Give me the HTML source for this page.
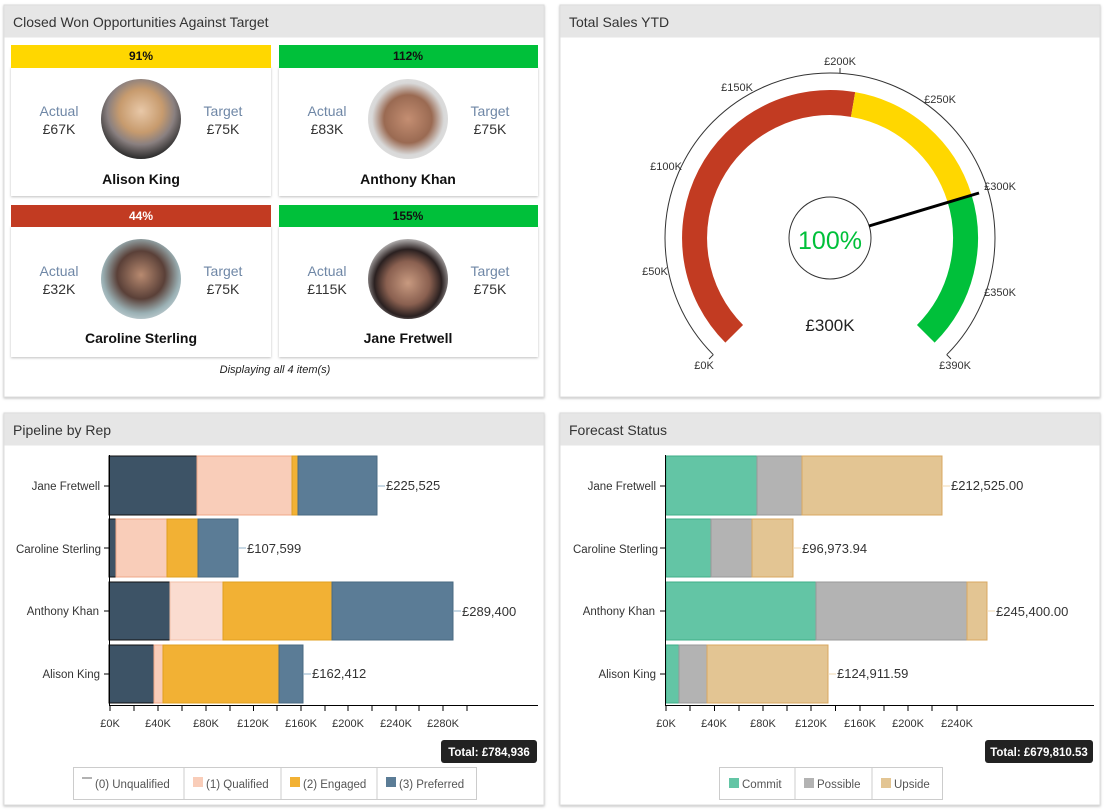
<!DOCTYPE html>
<html><head><meta charset="utf-8"><style>
html,body{margin:0;padding:0;background:#fff;}
svg{display:block;font-family:"Liberation Sans",sans-serif;}
</style></head><body>
<svg width="1110" height="812" viewBox="0 0 1110 812" xmlns="http://www.w3.org/2000/svg">
<defs>
<filter id="sh" x="-5%" y="-5%" width="110%" height="110%"><feDropShadow dx="0" dy="1" stdDeviation="1.2" flood-color="#000" flood-opacity="0.25"/></filter>
<radialGradient id="p1" cx="50%" cy="40%" r="60%"><stop offset="0" stop-color="#e8c8a8"/><stop offset="0.45" stop-color="#c79b6e"/><stop offset="0.7" stop-color="#8a8080"/><stop offset="1" stop-color="#2a2a2a"/></radialGradient>
<radialGradient id="p2" cx="50%" cy="50%" r="60%"><stop offset="0" stop-color="#c48e72"/><stop offset="0.5" stop-color="#9a6a52"/><stop offset="0.75" stop-color="#d8d8d8"/><stop offset="1" stop-color="#e4e4e4"/></radialGradient>
<radialGradient id="p3" cx="50%" cy="45%" r="60%"><stop offset="0" stop-color="#b88a70"/><stop offset="0.5" stop-color="#5a4038"/><stop offset="0.8" stop-color="#9ab0b4"/><stop offset="1" stop-color="#c8d4d8"/></radialGradient>
<radialGradient id="p4" cx="50%" cy="55%" r="60%"><stop offset="0" stop-color="#c89a80"/><stop offset="0.45" stop-color="#8a6050"/><stop offset="0.7" stop-color="#2a2020"/><stop offset="1" stop-color="#e8e8e8"/></radialGradient>
</defs>

<!-- Panels -->
<g filter="url(#sh)">
<rect x="4" y="5" width="540" height="392" fill="#fff" stroke="#ddd"/>
<rect x="560" y="5" width="540" height="392" fill="#fff" stroke="#ddd"/>
<rect x="4" y="413" width="540" height="392" fill="#fff" stroke="#ddd"/>
<rect x="560" y="413" width="540" height="392" fill="#fff" stroke="#ddd"/>
</g>
<rect x="4.5" y="5.5" width="539" height="32" fill="#e6e6e6"/>
<rect x="560.5" y="5.5" width="539" height="32" fill="#e6e6e6"/>
<rect x="4.5" y="413.5" width="539" height="32" fill="#e6e6e6"/>
<rect x="560.5" y="413.5" width="539" height="32" fill="#e6e6e6"/>
<g font-size="14" fill="#333">
<text x="13" y="27">Closed Won Opportunities Against Target</text>
<text x="569" y="27">Total Sales YTD</text>
<text x="13" y="435">Pipeline by Rep</text>
<text x="569" y="435">Forecast Status</text>
</g>

<!-- Cards -->
<g filter="url(#sh)">
<rect x="11" y="67" width="260" height="129" fill="#fff"/>
<rect x="279" y="67" width="259" height="129" fill="#fff"/>
<rect x="11" y="226" width="260" height="131" fill="#fff"/>
<rect x="279" y="226" width="259" height="131" fill="#fff"/>
</g>
<rect x="11" y="45" width="260" height="23" fill="#ffd700"/>
<rect x="279" y="45" width="259" height="23" fill="#00c03a"/>
<rect x="11" y="205" width="260" height="22" fill="#c23b22"/>
<rect x="279" y="205" width="259" height="22" fill="#00c03a"/>
<g font-size="12" font-weight="bold" text-anchor="middle">
<text x="141" y="60" fill="#111">91%</text>
<text x="408" y="60" fill="#111">112%</text>
<text x="141" y="220" fill="#fff">44%</text>
<text x="408" y="220" fill="#111">155%</text>
</g>
<circle cx="141" cy="119" r="40" fill="url(#p1)"/>
<circle cx="408" cy="119" r="40" fill="url(#p2)"/>
<circle cx="141" cy="279" r="40" fill="url(#p3)"/>
<circle cx="408" cy="279" r="40" fill="url(#p4)"/>
<g text-anchor="middle" font-size="14">
<g fill="#6f87a6"><text x="59" y="116">Actual</text><text x="223" y="116">Target</text><text x="327" y="116">Actual</text><text x="490" y="116">Target</text>
<text x="59" y="276">Actual</text><text x="223" y="276">Target</text><text x="327" y="276">Actual</text><text x="490" y="276">Target</text></g>
<g fill="#333"><text x="59" y="134">£67K</text><text x="223" y="134">£75K</text><text x="327" y="134">£83K</text><text x="490" y="134">£75K</text>
<text x="59" y="294">£32K</text><text x="223" y="294">£75K</text><text x="327" y="294">£115K</text><text x="490" y="294">£75K</text></g>
<g fill="#111" font-weight="bold"><text x="141" y="184">Alison King</text><text x="408" y="184">Anthony Khan</text>
<text x="141" y="343">Caroline Sterling</text><text x="408" y="343">Jane Fretwell</text></g>
<text x="275" y="373" font-size="11" font-style="italic" fill="#222">Displaying all 4 item(s)</text>
</g>

<!-- Gauge -->
<g fill="none">
<path d="M713.3 354.7 A165 165 0 1 1 946.7 354.7" stroke="#333" stroke-width="1"/>
<path d="M734.2 333.8 A135.5 135.5 0 0 1 853.1 104.5" stroke="#c23b22" stroke-width="25"/>
<path d="M853.1 104.5 A135.5 135.5 0 0 1 959.4 197.8" stroke="#ffd700" stroke-width="25"/>
<path d="M959.4 197.8 A135.5 135.5 0 0 1 925.8 333.8" stroke="#00c03a" stroke-width="25"/>
<circle cx="830" cy="238" r="41" stroke="#333" stroke-width="1"/>
<line x1="869" y1="226" x2="979" y2="193" stroke="#000" stroke-width="3"/>
</g>
<g stroke="#333" stroke-width="1">
<line x1="713.3" y1="354.7" x2="709" y2="359"/>
<line x1="946.7" y1="354.7" x2="951" y2="359"/>
<line x1="840" y1="73" x2="840" y2="68"/>
</g>
<g font-size="11" fill="#333" text-anchor="middle">
<text x="704" y="369">£0K</text>
<text x="655" y="275">£50K</text>
<text x="666" y="170">£100K</text>
<text x="737" y="91">£150K</text>
<text x="840" y="65">£200K</text>
<text x="940" y="103">£250K</text>
<text x="1000" y="190">£300K</text>
<text x="1000" y="296">£350K</text>
<text x="955" y="369">£390K</text>
</g>
<text x="830" y="249" font-size="25" fill="#00c03a" text-anchor="middle">100%</text>
<text x="830" y="331" font-size="17" fill="#222" text-anchor="middle">£300K</text>

<!-- Pipeline by Rep -->
<g stroke-width="1">
<rect x="109" y="456" width="88" height="59" fill="#3d5366" stroke="#111"/>
<rect x="197" y="456" width="95" height="59" fill="#f9cdb9" stroke="#f0a888"/>
<rect x="292" y="456" width="6" height="59" fill="#f2b134" stroke="#e0a020"/>
<rect x="298" y="456" width="79" height="59" fill="#5b7c96" stroke="#4a6a82"/>
<rect x="109" y="519" width="7" height="58" fill="#3d5366" stroke="#111"/>
<rect x="116" y="519" width="51" height="58" fill="#f9cdb9" stroke="#f0a888"/>
<rect x="167" y="519" width="31" height="58" fill="#f2b134" stroke="#e0a020"/>
<rect x="198" y="519" width="40" height="58" fill="#5b7c96" stroke="#4a6a82"/>
<rect x="109" y="582" width="61" height="58" fill="#3d5366" stroke="#111"/>
<rect x="170" y="582" width="53" height="58" fill="#fadcd0" stroke="#f3c0a8"/>
<rect x="223" y="582" width="109" height="58" fill="#f2b134" stroke="#e0a020"/>
<rect x="332" y="582" width="121" height="58" fill="#5b7c96" stroke="#4a6a82"/>
<rect x="109" y="645" width="45" height="58" fill="#3d5366" stroke="#111"/>
<rect x="154" y="645" width="9" height="58" fill="#f9cdb9" stroke="#f0a888"/>
<rect x="163" y="645" width="116" height="58" fill="#f2b134" stroke="#e0a020"/>
<rect x="279" y="645" width="24" height="58" fill="#5b7c96" stroke="#4a6a82"/>
</g>
<g stroke="#8fb0c8"><line x1="377" y1="486" x2="385" y2="486"/><line x1="238" y1="548" x2="246" y2="548"/><line x1="453" y1="611" x2="461" y2="611"/><line x1="303" y1="674" x2="311" y2="674"/></g>
<g font-size="13" fill="#333">
<text x="386" y="490">£225,525</text><text x="247" y="553">£107,599</text><text x="462" y="616">£289,400</text><text x="312" y="678">£162,412</text>
</g>
<g font-size="11.5" fill="#333" text-anchor="end">
<text x="100" y="490">Jane Fretwell</text><text x="101" y="553">Caroline Sterling</text><text x="99" y="615">Anthony Khan</text><text x="100" y="678">Alison King</text>
</g>
<g stroke="#000"><line x1="109.5" y1="455" x2="109.5" y2="706"/><line x1="109" y1="705.5" x2="538" y2="705.5"/>
<line x1="104" y1="486" x2="109" y2="486"/><line x1="104" y1="548" x2="109" y2="548"/><line x1="104" y1="611" x2="109" y2="611"/><line x1="104" y1="674" x2="109" y2="674"/>
<path d="M110 706v5M134 706v5M158 706v5M182 706v5M206 706v5M230 706v5M253.5 706v5M277 706v5M301 706v5M325 706v5M348 706v5M372 706v5M396 706v5M419 706v5M443 706v5M467 706v5"/></g>
<g font-size="11" fill="#333" text-anchor="middle">
<text x="110" y="727">£0K</text><text x="158" y="727">£40K</text><text x="206" y="727">£80K</text><text x="253" y="727">£120K</text><text x="301" y="727">£160K</text><text x="348" y="727">£200K</text><text x="396" y="727">£240K</text><text x="443" y="727">£280K</text>
</g>
<rect x="441" y="740" width="96" height="23" rx="3" fill="#222"/>
<text x="489" y="756" font-size="11.5" font-weight="bold" fill="#fff" text-anchor="middle">Total: £784,936</text>
<rect x="73.5" y="767.5" width="403" height="32" fill="#fff" stroke="#ccc"/>
<g stroke="#ccc"><line x1="184" y1="768" x2="184" y2="799"/><line x1="281" y1="768" x2="281" y2="799"/><line x1="377" y1="768" x2="377" y2="799"/></g>
<line x1="82" y1="778" x2="92" y2="778" stroke="#666"/>
<rect x="193" y="777" width="10" height="10" fill="#f9cdb9"/>
<rect x="290" y="777" width="10" height="10" fill="#f2b134"/>
<rect x="386" y="777" width="10" height="10" fill="#5b7c96"/>
<g font-size="11.5" fill="#555"><text x="95" y="788">(0) Unqualified</text><text x="206" y="788">(1) Qualified</text><text x="303" y="788">(2) Engaged</text><text x="399" y="788">(3) Preferred</text></g>

<!-- Forecast Status -->
<g stroke-width="1">
<rect x="666" y="456" width="91" height="59" fill="#63c5a5" stroke="#3fae88"/>
<rect x="757" y="456" width="45" height="59" fill="#b3b3b3" stroke="#999"/>
<rect x="802" y="456" width="140" height="59" fill="#e3c593" stroke="#d8a860"/>
<rect x="666" y="519" width="45" height="58" fill="#63c5a5" stroke="#3fae88"/>
<rect x="711" y="519" width="41" height="58" fill="#b3b3b3" stroke="#999"/>
<rect x="752" y="519" width="41" height="58" fill="#e3c593" stroke="#d8a860"/>
<rect x="666" y="582" width="150" height="58" fill="#63c5a5" stroke="#3fae88"/>
<rect x="816" y="582" width="151" height="58" fill="#b3b3b3" stroke="#999"/>
<rect x="967" y="582" width="20" height="58" fill="#e3c593" stroke="#d8a860"/>
<rect x="666" y="645" width="13" height="58" fill="#63c5a5" stroke="#3fae88"/>
<rect x="679" y="645" width="28" height="58" fill="#b3b3b3" stroke="#999"/>
<rect x="707" y="645" width="121" height="58" fill="#e3c593" stroke="#d8a860"/>
</g>
<g stroke="#f0d8b0"><line x1="942" y1="486" x2="950" y2="486"/><line x1="793" y1="548" x2="801" y2="548"/><line x1="987" y1="611" x2="995" y2="611"/><line x1="828" y1="674" x2="836" y2="674"/></g>
<g font-size="13" fill="#333">
<text x="951" y="490">£212,525.00</text><text x="802" y="553">£96,973.94</text><text x="996" y="616">£245,400.00</text><text x="837" y="678">£124,911.59</text>
</g>
<g font-size="11.5" fill="#333" text-anchor="end">
<text x="656" y="490">Jane Fretwell</text><text x="658" y="553">Caroline Sterling</text><text x="655" y="615">Anthony Khan</text><text x="656" y="678">Alison King</text>
</g>
<g stroke="#000"><line x1="665.5" y1="455" x2="665.5" y2="706"/><line x1="665" y1="705.5" x2="1094" y2="705.5"/>
<line x1="660" y1="486" x2="665" y2="486"/><line x1="660" y1="548" x2="665" y2="548"/><line x1="660" y1="611" x2="665" y2="611"/><line x1="660" y1="674" x2="665" y2="674"/>
<path d="M666 706v5M690 706v5M714.5 706v5M739 706v5M763 706v5M787 706v5M811 706v5M835.5 706v5M860 706v5M884 706v5M908 706v5M932 706v5M957 706v5"/></g>
<g font-size="11" fill="#333" text-anchor="middle">
<text x="666" y="727">£0K</text><text x="714" y="727">£40K</text><text x="763" y="727">£80K</text><text x="811" y="727">£120K</text><text x="860" y="727">£160K</text><text x="908" y="727">£200K</text><text x="957" y="727">£240K</text>
</g>
<rect x="985" y="740" width="108" height="23" rx="3" fill="#222"/>
<text x="1039" y="756" font-size="11.5" font-weight="bold" fill="#fff" text-anchor="middle">Total: £679,810.53</text>
<rect x="719.5" y="767.5" width="223" height="32" fill="#fff" stroke="#ccc"/>
<g stroke="#ccc"><line x1="795" y1="768" x2="795" y2="799"/><line x1="872" y1="768" x2="872" y2="799"/></g>
<rect x="729" y="778" width="10" height="10" fill="#63c5a5"/>
<rect x="804" y="778" width="10" height="10" fill="#b3b3b3"/>
<rect x="881" y="778" width="10" height="10" fill="#e3c593"/>
<g font-size="11.5" fill="#555"><text x="742" y="788">Commit</text><text x="817" y="788">Possible</text><text x="894" y="788">Upside</text></g>
</svg>
</body></html>
